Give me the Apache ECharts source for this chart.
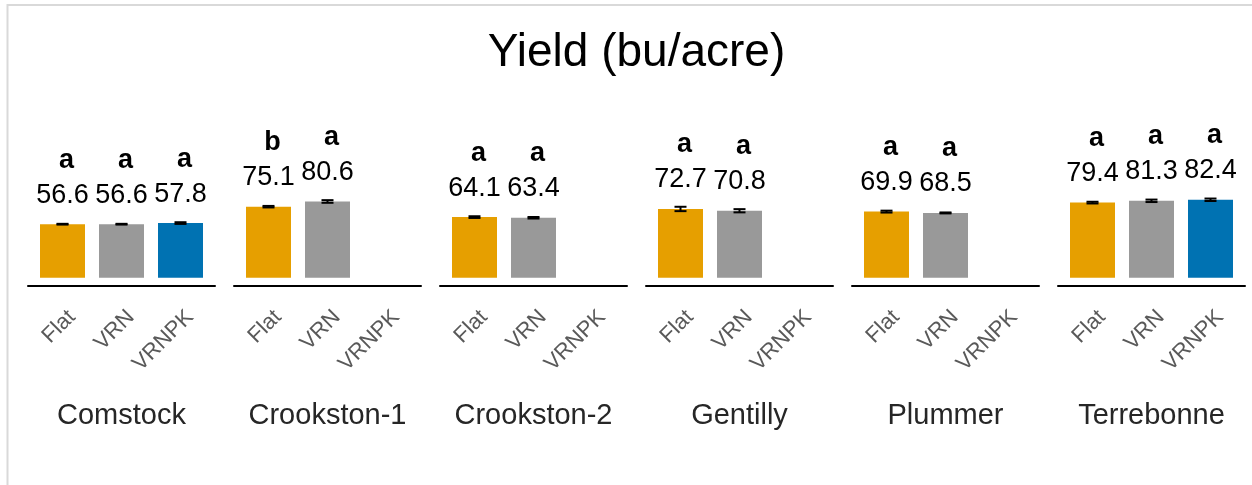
<!DOCTYPE html>
<html>
<head>
<meta charset="utf-8">
<script src="https://cdn.jsdelivr.net/npm/echarts@6/dist/echarts.min.js"></script>
<style>
html,body{margin:0;padding:0;background:#fff;}
#chart{width:1252px;height:485px;}
</style>
</head>
<body>
<div id="chart"></div>
<script>
const sites = ['Comstock', 'Crookston-1', 'Crookston-2', 'Gentilly', 'Plummer', 'Terrebonne'];
const treatments = ['Flat', 'VRN', 'VRNPK'];
const yieldFlat  = [56.6, 75.1, 64.1, 72.7, 69.9, 79.4];
const yieldVRN   = [56.6, 80.6, 63.4, 70.8, 68.5, 81.3];
const yieldVRNPK = [57.8, null, null, null, null, 82.4];
const errFlat  = [0.4, 0.8, 0.9, 2.3, 1.0, 0.9];
const errVRN   = [0.4, 1.4, 0.8, 1.7, 0.5, 1.3];
const errVRNPK = [0.9, null, null, null, null, 1.3];
const lettersFlat  = ['a', 'b', 'a', 'a', 'a', 'a'];
const lettersVRN   = ['a', 'a', 'a', 'a', 'a', 'a'];
const lettersVRNPK = ['a', '', '', '', '', 'a'];
const treatmentColors = ['#E69F00', '#999999', '#0072B2'];

const FONT = "'Liberation Sans', Arial, sans-serif";
const yields = [yieldFlat, yieldVRN, yieldVRNPK];
const errs = [errFlat, errVRN, errVRNPK];
const letters = [lettersFlat, lettersVRN, lettersVRNPK];

const grids = [], xAxes = [], yAxes = [], series = [];
const panelLeft0 = 28, panelStep = 206, panelWidth = 187, inset = 5, labelShift = 9.5;
const gTop = 183.1, gBottom = 485 - 277.8;

sites.forEach((site, i) => {
  const P = panelLeft0 + i * panelStep;
  const gb = 3 * i, gl = 3 * i + 1, gt = 3 * i + 2;
  // bar grid
  grids.push({left: P + inset, width: panelWidth - 2 * inset, top: gTop, bottom: gBottom});
  // axis-line grid
  grids.push({left: P, width: panelWidth, top: gTop, bottom: gBottom});
  // tick-label grid
  grids.push({left: P + inset + labelShift, width: panelWidth - 2 * inset, top: gTop, bottom: gBottom});
  xAxes.push({
    type: 'category', gridIndex: gb, data: treatments,
    axisLine: {show: false}, axisTick: {show: false}, axisLabel: {show: false}
  });
  xAxes.push({
    type: 'category', gridIndex: gl, data: treatments, offset: 8,
    axisLine: {show: true, onZero: false, lineStyle: {color: '#000', width: 2}},
    axisTick: {show: false}, axisLabel: {show: false},
    name: site, nameLocation: 'middle', nameGap: 116,
    nameTextStyle: {fontSize: 29, color: '#262626', fontFamily: FONT}
  });
  xAxes.push({
    type: 'category', gridIndex: gt, data: treatments,
    axisLine: {show: false}, axisTick: {show: false},
    axisLabel: {rotate: 45, interval: 0, margin: 36, padding: [51, 0, 0, 0],
      color: '#595959', fontSize: 22, fontFamily: FONT}
  });
  yAxes.push({type: 'value', gridIndex: gb, min: 0, max: 100, show: false});
  yAxes.push({type: 'value', gridIndex: gl, min: 0, max: 100, show: false});
  yAxes.push({type: 'value', gridIndex: gt, min: 0, max: 100, show: false});

  const barData = treatments.map((t, k) => {
    const v = yields[k][i];
    return v == null ? null : {value: v, itemStyle: {color: treatmentColors[k]}};
  });
  series.push({
    type: 'bar', xAxisIndex: gb, yAxisIndex: gb, data: barData, barWidth: 45,
    label: {
      show: true, position: 'top', distance: 13,
      formatter: (p) => {
        const k = p.dataIndex;
        const l = letters[k][i];
        return '{l|' + l + '}\n{v|' + yields[k][i].toFixed(1) + '}';
      },
      rich: {
        l: {fontSize: 27, fontWeight: 'bold', color: '#000', lineHeight: 38, fontFamily: FONT, padding: [0, 0, 0, 8]},
        v: {fontSize: 27, color: '#000', lineHeight: 32, fontFamily: FONT}
      }
    },
    z: 2
  });
  const errData = [];
  treatments.forEach((t, k) => {
    if (yields[k][i] != null) errData.push([k, yields[k][i], errs[k][i]]);
  });
  series.push({
    type: 'custom', xAxisIndex: gb, yAxisIndex: gb, data: errData, z: 3,
    renderItem: (params, api) => {
      const x = api.value(0), v = api.value(1), e = api.value(2);
      const hi = api.coord([x, v + e]);
      const lo = api.coord([x, v - e]);
      const hw = 6;
      const st = {stroke: '#000', lineWidth: 2};
      return {
        type: 'group',
        children: [
          {type: 'line', shape: {x1: hi[0], y1: hi[1], x2: lo[0], y2: lo[1]}, style: st},
          {type: 'line', shape: {x1: hi[0] - hw, y1: hi[1], x2: hi[0] + hw, y2: hi[1]}, style: st},
          {type: 'line', shape: {x1: lo[0] - hw, y1: lo[1], x2: lo[0] + hw, y2: lo[1]}, style: st}
        ]
      };
    }
  });
});

const chart = echarts.init(document.getElementById('chart'), null, {renderer: 'canvas'});
chart.setOption({
  animation: false,
  backgroundColor: '#fff',
  title: {
    text: 'Yield (bu/acre)', left: 636.5, textAlign: 'center', top: 30, padding: 0,
    textStyle: {fontSize: 46, fontWeight: 'normal', color: '#000', fontFamily: FONT}
  },
  graphic: [{
    type: 'rect', silent: true, z: -10,
    shape: {x: 7.5, y: 5, width: 1400, height: 700},
    style: {fill: 'none', stroke: '#d9d9d9', lineWidth: 2}
  }],
  grid: grids, xAxis: xAxes, yAxis: yAxes, series: series
});
</script>
</body>
</html>
